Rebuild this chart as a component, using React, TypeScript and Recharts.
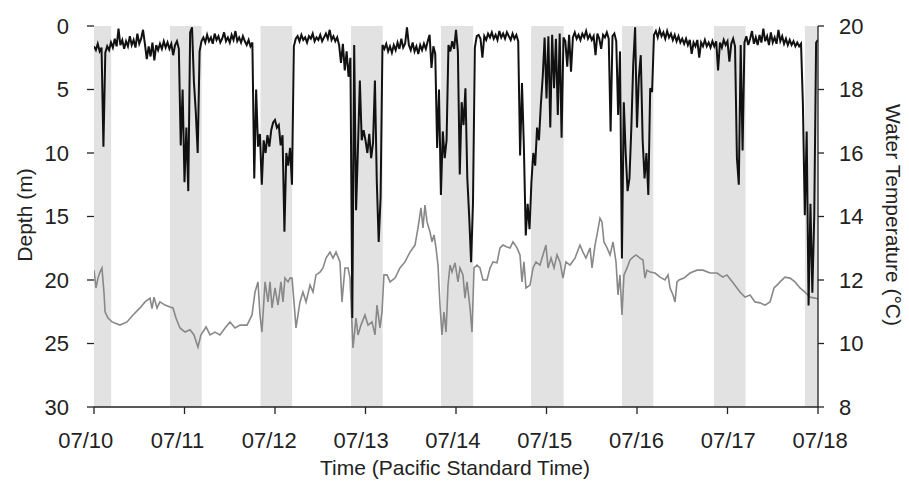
// Depth & water temperature trace, 07/10 - 07/18 (Recharts line chart, night bands shaded)
import { LineChart, Line, XAxis, YAxis, ReferenceArea, Label } from 'recharts';

const INK = '#222';
const FONT = '"Liberation Sans", Arial, Helvetica, sans-serif';

// x axis: days since 07/10 00:00 (PST)
const dayTicks = [0, 1, 2, 3, 4, 5, 6, 7, 8];
const dayLabels = ['07/10', '07/11', '07/12', '07/13', '07/14', '07/15', '07/16', '07/17', '07/18'];
const depthTicks = [0, 5, 10, 15, 20, 25, 30];
const tempTicks = [8, 10, 12, 14, 16, 18, 20];

// night periods (sunset -> sunrise), in days
const nightBands: [number, number][] = [
  [0, 0.19], [0.84, 1.19], [1.84, 2.19], [2.84, 3.19], [3.835, 4.19],
  [4.83, 5.19], [5.835, 6.18], [6.85, 7.2], [7.855, 8],
];

// depth (m), one reading every 30 min, one array per day
const depthDay0 = [1.6, 1.9, 1.4, 2.0, 1.7, 9.5, 2.1, 1.6, 1.9, 1.3, 1.7, 1.0, 1.6, 0.2, 1.5, 1.1, 1.8, 1.2, 1.6, 0.8, 1.5, 1.1, 1.7, 0.6, 1.4, 1.0, 0.3, 1.4, 2.6, 1.6, 2.4, 1.3, 2.7, 1.5, 1.9, 1.4, 1.8, 1.2, 1.7, 1.3, 1.8, 1.4, 2.3, 1.5, 1.2, 1.8, 9.4, 5.0];
const depthDay1 = [12.3, 8.0, 13.0, 0.5, 0.1, 4.4, 6.8, 10.0, 2.0, 1.2, 0.9, 1.3, 0.7, 1.2, 0.9, 1.4, 0.6, 1.1, 0.8, 1.3, 1.0, 0.5, 1.2, 0.9, 1.3, 0.7, 1.1, 0.4, 1.2, 0.9, 1.3, 0.8, 1.2, 1.5, 1.1, 1.6, 1.3, 12.0, 5.0, 9.5, 8.5, 12.5, 9.0, 10.0, 8.6, 9.5, 8.2, 7.6];
const depthDay2 = [7.4, 8.0, 7.8, 9.4, 8.6, 16.2, 10.0, 11.0, 9.6, 12.5, 1.6, 1.0, 0.8, 1.2, 0.7, 1.1, 0.9, 1.3, 0.8, 1.0, 0.6, 1.2, 0.9, 1.1, 0.7, 1.2, 0.9, 0.6, 1.0, 0.3, 1.1, 0.8, 1.2, 0.9, 1.5, 2.9, 1.4, 3.5, 2.0, 4.0, 2.5, 23.0, 1.5, 14.5, 9.6, 4.3, 9.0, 8.2];
const depthDay3 = [9.0, 10.0, 8.5, 10.4, 9.2, 4.3, 12.3, 17.0, 13.5, 1.5, 1.8, 1.4, 2.0, 1.6, 2.1, 1.5, 1.9, 1.3, 1.8, 1.0, 1.7, 1.4, 0.1, 1.5, 1.9, 1.3, 2.0, 1.6, 2.2, 1.5, 1.9, 1.4, 1.8, 1.2, 0.7, 3.3, 1.6, 2.2, 9.6, 5.0, 13.3, 8.3, 10.4, 9.0, 1.5, 2.0, 1.2, 1.8];
const depthDay4 = [0.3, 2.0, 11.7, 6.0, 7.8, 4.9, 12.0, 15.0, 18.6, 14.0, 1.7, 0.8, 0.7, 1.0, 2.5, 0.8, 1.1, 0.6, 0.9, 0.5, 1.0, 0.7, 1.1, 0.4, 0.9, 0.6, 1.0, 0.5, 0.8, 1.1, 0.6, 1.0, 0.7, 1.2, 10.2, 4.5, 9.5, 16.5, 14.0, 16.0, 12.3, 10.0, 11.0, 8.0, 9.0, 6.2, 4.0, 0.9];
const depthDay5 = [5.7, 0.8, 8.0, 0.7, 4.9, 1.0, 7.0, 0.6, 8.8, 0.9, 1.2, 3.2, 0.7, 3.6, 0.9, 0.5, 1.0, 0.7, 1.1, 0.6, 0.9, 0.4, 1.0, 0.7, 1.1, 0.8, 2.3, 0.6, 1.0, 1.8, 0.7, 0.9, 0.5, 1.0, 8.3, 0.8, 0.6, 1.2, 7.0, 2.0, 18.3, 6.0, 10.0, 13.0, 12.0, 8.0, 3.0, 0.1];
const depthDay6 = [8.0, 4.0, 2.3, 9.0, 12.0, 10.0, 13.3, 4.9, 5.2, 0.7, 0.4, 0.9, 0.3, 0.8, 0.5, 1.0, 0.4, 0.9, 0.6, 1.1, 0.7, 1.2, 0.8, 1.3, 1.0, 1.4, 1.0, 1.5, 1.1, 2.2, 1.3, 1.6, 1.1, 2.5, 1.3, 1.6, 1.1, 1.6, 1.3, 1.7, 1.2, 1.6, 1.2, 3.5, 1.3, 1.7, 1.1, 1.5];
const depthDay7 = [1.2, 2.8, 1.4, 1.0, 1.6, 10.4, 12.5, 1.5, 9.8, 1.3, 0.8, 1.5, 1.0, 0.4, 1.4, 0.9, 1.5, 0.7, 1.3, 0.2, 1.2, 0.8, 1.5, 0.5, 1.3, 0.9, 1.4, 0.3, 1.2, 0.8, 1.4, 1.0, 1.5, 1.1, 1.5, 1.2, 1.6, 1.3, 1.6, 1.4, 6.2, 14.9, 8.3, 22.0, 14.0, 21.0, 15.0, 1.3];
const depthEnd = 1.1; // 07/18 00:00

// water temperature (°C): [day, value]
const temperature: [number, number][] = [
  [0.000, 12.31], [0.022, 11.75], [0.044, 12.06], [0.066, 12.25], [0.088, 12.38], [0.110, 11.62],
  [0.122, 11.00], [0.155, 10.80], [0.199, 10.68], [0.287, 10.58], [0.365, 10.68], [0.431, 10.90],
  [0.508, 11.12], [0.564, 11.31], [0.619, 11.43], [0.641, 11.10], [0.663, 11.46], [0.696, 11.12],
  [0.729, 11.31], [0.785, 11.21], [0.840, 11.15], [0.873, 11.12], [0.906, 10.80], [0.950, 10.49],
  [1.006, 10.36], [1.061, 10.43], [1.105, 10.27], [1.149, 9.89], [1.182, 10.27], [1.238, 10.52],
  [1.282, 10.27], [1.337, 10.36], [1.392, 10.27], [1.448, 10.49], [1.503, 10.68], [1.558, 10.49],
  [1.613, 10.58], [1.691, 10.58], [1.746, 10.90], [1.779, 11.62], [1.812, 11.94], [1.834, 10.90],
  [1.856, 10.36], [1.890, 11.94], [1.923, 11.31], [1.945, 11.94], [1.967, 11.12], [2.000, 11.75],
  [2.033, 11.21], [2.066, 11.94], [2.088, 11.31], [2.110, 12.06], [2.144, 11.94], [2.166, 12.06],
  [2.188, 12.06], [2.210, 11.31], [2.232, 10.49], [2.276, 11.31], [2.309, 11.62], [2.343, 11.31],
  [2.387, 11.84], [2.420, 11.62], [2.453, 12.16], [2.497, 12.25], [2.530, 12.38], [2.564, 12.69],
  [2.608, 12.88], [2.641, 12.69], [2.674, 12.88], [2.718, 12.57], [2.740, 11.31], [2.773, 12.38],
  [2.807, 12.38], [2.829, 12.06], [2.851, 10.58], [2.862, 9.86], [2.895, 10.80], [2.917, 10.27],
  [2.950, 10.58], [2.994, 10.90], [3.028, 10.58], [3.072, 10.68], [3.105, 10.27], [3.127, 11.21],
  [3.160, 10.49], [3.182, 10.99], [3.204, 12.16], [3.238, 12.16], [3.271, 11.94], [3.326, 12.06],
  [3.381, 12.38], [3.436, 12.57], [3.492, 12.88], [3.547, 13.10], [3.580, 13.64], [3.613, 14.27],
  [3.635, 13.64], [3.657, 14.36], [3.680, 13.83], [3.713, 13.51], [3.735, 13.20], [3.757, 13.42],
  [3.779, 13.01], [3.801, 12.47], [3.823, 11.21], [3.845, 10.27], [3.867, 10.99], [3.890, 10.36],
  [3.912, 11.84], [3.934, 12.47], [3.956, 12.25], [3.989, 12.54], [4.022, 11.94], [4.044, 12.38],
  [4.077, 12.16], [4.099, 11.43], [4.122, 11.94], [4.155, 11.12], [4.177, 10.36], [4.199, 12.38],
  [4.232, 12.47], [4.265, 12.38], [4.298, 12.00], [4.343, 12.00], [4.376, 12.38], [4.409, 12.57],
  [4.453, 12.54], [4.486, 13.01], [4.519, 13.10], [4.564, 13.04], [4.597, 13.01], [4.630, 13.20],
  [4.674, 13.01], [4.707, 12.79], [4.729, 11.94], [4.751, 12.57], [4.773, 11.75], [4.818, 11.84],
  [4.851, 12.38], [4.884, 12.57], [4.928, 12.47], [4.961, 12.79], [4.994, 13.10], [5.017, 12.38],
  [5.050, 12.69], [5.083, 12.38], [5.116, 12.79], [5.149, 12.57], [5.182, 12.06], [5.215, 12.57],
  [5.260, 12.47], [5.315, 12.69], [5.370, 13.10], [5.403, 12.88], [5.436, 12.69], [5.481, 13.01],
  [5.503, 12.38], [5.536, 13.10], [5.558, 13.42], [5.591, 13.95], [5.613, 13.83], [5.635, 13.20],
  [5.669, 13.01], [5.702, 12.79], [5.735, 13.20], [5.768, 12.57], [5.790, 11.53], [5.812, 12.16],
  [5.834, 10.90], [5.856, 12.16], [5.890, 12.38], [5.923, 12.63], [5.956, 12.72], [5.989, 12.79],
  [6.033, 12.69], [6.066, 12.63], [6.088, 12.06], [6.110, 12.31], [6.144, 12.25], [6.199, 12.22],
  [6.254, 12.09], [6.309, 12.00], [6.343, 12.16], [6.365, 11.75], [6.398, 11.53], [6.420, 11.31],
  [6.442, 11.94], [6.464, 12.00], [6.519, 12.06], [6.586, 12.22], [6.663, 12.31], [6.729, 12.31],
  [6.807, 12.22], [6.884, 12.22], [6.950, 12.09], [6.994, 12.16], [7.061, 11.91], [7.138, 11.62],
  [7.193, 11.46], [7.249, 11.53], [7.304, 11.31], [7.359, 11.28], [7.414, 11.21], [7.470, 11.31],
  [7.514, 11.75], [7.547, 11.84], [7.580, 11.94], [7.635, 12.09], [7.691, 12.06], [7.746, 11.94],
  [7.801, 11.75], [7.856, 11.62], [7.912, 11.46], [7.967, 11.43], [8.000, 11.40],
];

const depthDays = [depthDay0, depthDay1, depthDay2, depthDay3, depthDay4, depthDay5, depthDay6, depthDay7];
const depthData = depthDays
  .flatMap((day, d) => day.map((depth, i) => ({ t: d + i / 48, depth })))
  .concat([{ t: 8, depth: depthEnd }]);
const tempData = temperature.map(([t, temp]) => ({ t, temp }));

// x tick labels sit a touch off their ticks in the original figure
function DayTick({ x, y, payload }: any) {
  const v = payload.value as number;
  return (
    <text x={x + (-8.3 + 1.3 * v)} y={y} dy="0.71em" textAnchor="middle" fontSize={22} fill={INK} fontFamily={FONT}>
      {dayLabels[v]}
    </text>
  );
}

const titleStyle = { fontSize: 21, fill: INK, fontFamily: FONT };

export default function App() {
  return (
    <div style={{ position: 'absolute', left: 0, top: 0 }}>
      <LineChart width={909} height={487} margin={{ top: 26, right: 0, bottom: 0, left: 0 }} style={{ fontFamily: FONT }}>
        {nightBands.map(([a, b]) => (
          <ReferenceArea key={a} x1={a} x2={b} yAxisId="depth" fill="#e2e2e2" fillOpacity={1} stroke="none" ifOverflow="hidden" />
        ))}

        <XAxis
          dataKey="t"
          type="number"
          domain={[0, 8]}
          ticks={dayTicks}
          interval={0}
          allowDataOverflow
          height={80}
          axisLine={{ stroke: INK, strokeWidth: 1.3 }}
          tickLine={{ stroke: INK, strokeWidth: 1.3 }}
          tickSize={7}
          tickMargin={18}
          tick={<DayTick />}
        >
          <Label
            content={() => (
              <text x={455} y={467} textAnchor="middle" dominantBaseline="central" {...titleStyle}>
                Time (Pacific Standard Time)
              </text>
            )}
          />
        </XAxis>

        <YAxis
          yAxisId="depth"
          orientation="left"
          domain={[0, 30]}
          reversed
          ticks={depthTicks}
          interval={0}
          width={94}
          axisLine={false}
          tickLine={{ stroke: INK, strokeWidth: 1.3 }}
          tickSize={7}
          tickMargin={18}
          tick={{ fontSize: 22, fill: INK, fontFamily: FONT }}
        >
          <Label
            content={() => (
              <text x={24} y={215} textAnchor="middle" dominantBaseline="central" transform="rotate(-90 24 215)" {...titleStyle}>
                Depth (m)
              </text>
            )}
          />
        </YAxis>

        <YAxis
          yAxisId="temp"
          orientation="right"
          domain={[8, 20]}
          ticks={tempTicks}
          interval={0}
          width={91}
          axisLine={{ stroke: INK, strokeWidth: 1.3 }}
          tickLine={{ stroke: INK, strokeWidth: 1.3 }}
          tickSize={6}
          tickMargin={15}
          tick={{ fontSize: 22, fill: INK, fontFamily: FONT }}
        >
          <Label
            content={() => (
              <text x={893} y={215} textAnchor="middle" dominantBaseline="central" transform="rotate(90 893 215)" {...titleStyle}>
                Water Temperature (°C)
              </text>
            )}
          />
        </YAxis>

        <Line
          data={tempData}
          dataKey="temp"
          yAxisId="temp"
          type="linear"
          stroke="#888888"
          strokeWidth={1.6}
          dot={false}
          activeDot={false}
          isAnimationActive={false}
        />
        <Line
          data={depthData}
          dataKey="depth"
          yAxisId="depth"
          type="linear"
          stroke="#111111"
          strokeWidth={2}
          dot={false}
          activeDot={false}
          isAnimationActive={false}
        />
      </LineChart>
    </div>
  );
}
